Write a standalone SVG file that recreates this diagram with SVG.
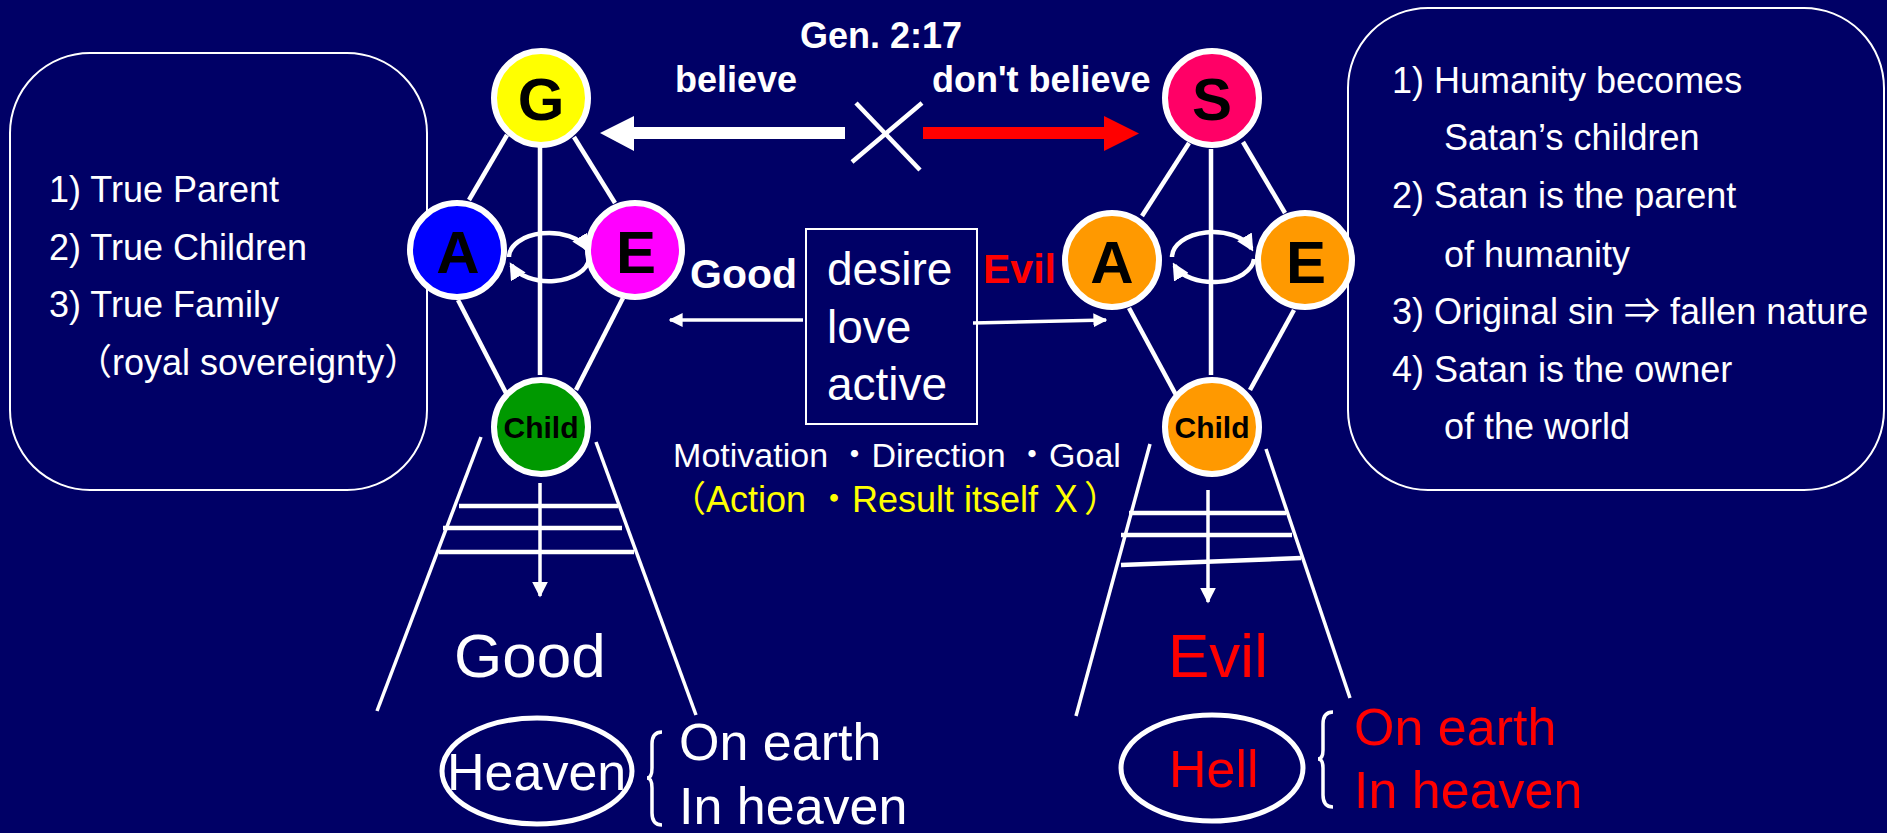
<svg xmlns="http://www.w3.org/2000/svg" width="1887" height="833" viewBox="0 0 1887 833">
<style>
text{font-family:"Liberation Sans",Arial,"Noto Sans CJK JP",sans-serif;}
.w{fill:#fff}
.b{font-weight:bold}
.node{stroke:#fff;stroke-width:6}
.lbl{font-weight:bold;fill:#000;text-anchor:middle}
.ln{stroke:#fff;stroke-width:4.5;fill:none}
.thin{stroke:#fff;stroke-width:3.5;fill:none}
.box{fill:none;stroke:#fff;stroke-width:2}
.t36{font-size:36px;fill:#fff}
</style>
<defs>
<marker id="ah" viewBox="0 0 10 10" refX="9" refY="5" markerWidth="14" markerHeight="14" markerUnits="userSpaceOnUse" orient="auto">
<path d="M0,0 L10,5 L0,10 z" fill="#fff"/>
</marker>
<marker id="ahx" viewBox="0 0 10 10" refX="8" refY="5" markerWidth="17" markerHeight="17" markerUnits="userSpaceOnUse" orient="auto">
<path d="M0,0 L10,5 L0,10 z" fill="#fff"/>
</marker>
<marker id="ah2" viewBox="0 0 10 10" refX="9" refY="5" markerWidth="16" markerHeight="16" markerUnits="userSpaceOnUse" orient="auto">
<path d="M0,0 L10,5 L0,10 z" fill="#fff"/>
</marker>
</defs>
<rect width="1887" height="833" fill="#000066"/>

<g id="connectors">
<!-- left diamond -->
<line class="ln" x1="507" y1="135" x2="469" y2="200"/>
<line class="ln" x1="574" y1="137" x2="615" y2="203"/>
<line class="ln" x1="540" y1="147" x2="540" y2="375"/>
<line class="ln" x1="458" y1="300" x2="507" y2="395"/>
<line class="ln" x1="623" y1="298" x2="576" y2="390"/>
<path class="ln" d="M509,257 A40,24 0 0 1 586.6,248.8" marker-end="url(#ahx)"/>
<path class="ln" d="M589,259 A40,24 0 0 1 511.4,265.2" marker-end="url(#ahx)"/>
<!-- right diamond -->
<line class="ln" x1="1189" y1="143" x2="1142" y2="216"/>
<line class="ln" x1="1243" y1="142" x2="1285" y2="213"/>
<line class="ln" x1="1211" y1="149" x2="1211" y2="375"/>
<line class="ln" x1="1129" y1="308" x2="1176" y2="395"/>
<line class="ln" x1="1294" y1="310" x2="1250" y2="390"/>
<path class="ln" d="M1172,257 A41,25 0 0 1 1251.5,248.5" marker-end="url(#ahx)"/>
<path class="ln" d="M1254,259 A41,25 0 0 1 1174.5,265.5" marker-end="url(#ahx)"/>
<!-- big arrows -->
<polygon points="600,133 634,116 634,127 845,127 845,139 634,139 634,151" fill="#fff"/>
<polygon points="923,127 1104,127 1104,116 1139,133.5 1104,151 1104,139 923,139" fill="#ff0000"/>
<line class="ln" x1="856" y1="103" x2="920" y2="170"/>
<line class="ln" x1="922" y1="103" x2="852" y2="162"/>
<!-- box arrows -->
<line class="thin" x1="803" y1="320" x2="670" y2="320" marker-end="url(#ah)"/>
<line class="thin" x1="973" y1="323" x2="1106" y2="320" marker-end="url(#ah)"/>
<!-- left funnel -->
<line class="thin" x1="481" y1="437" x2="377" y2="711"/>
<line class="thin" x1="596" y1="442" x2="696" y2="715"/>
<line class="ln" x1="459" y1="506" x2="618" y2="506"/>
<line class="ln" x1="443" y1="528" x2="622" y2="528"/>
<line class="ln" x1="439" y1="552" x2="634" y2="552"/>
<line class="thin" x1="540" y1="483" x2="540" y2="596" marker-end="url(#ah2)"/>
<!-- right funnel -->
<line class="thin" x1="1150" y1="444" x2="1076" y2="716"/>
<line class="thin" x1="1266" y1="449" x2="1350" y2="698"/>
<line class="ln" x1="1129" y1="513" x2="1286" y2="513"/>
<line class="ln" x1="1121" y1="535" x2="1292" y2="535"/>
<line class="ln" x1="1121" y1="565" x2="1301" y2="558"/>
<line class="thin" x1="1208" y1="490" x2="1208" y2="602" marker-end="url(#ah2)"/>
<!-- braces -->
<path class="thin" d="M662,732 Q652,732 652,744 L652,768 Q652,778 647,778 Q652,778 652,788 L652,813 Q652,825 662,825"/>
<path class="thin" d="M1333,712 Q1323,712 1323,724 L1323,750 Q1323,759 1318,759 Q1323,759 1323,768 L1323,795 Q1323,807 1333,807"/>
</g>

<g id="left-box">
<rect class="box" x="10" y="53" width="417" height="437" rx="80" ry="80"/>
<text class="t36" x="49" y="202">1) True Parent</text>
<text class="t36" x="49" y="260">2) True Children</text>
<text class="t36" x="49" y="317">3) True Family</text>
<text class="t36" x="76" y="375">（royal sovereignty）</text>
</g>

<g id="right-box">
<rect class="box" x="1348" y="8" width="536" height="482" rx="80" ry="80"/>
<text class="t36" x="1392" y="93">1) Humanity becomes</text>
<text class="t36" x="1444" y="150">Satan’s children</text>
<text class="t36" x="1392" y="208">2) Satan is the parent</text>
<text class="t36" x="1444" y="267">of humanity</text>
<text class="t36" x="1392" y="324">3) Original sin ⇒ fallen nature</text>
<text class="t36" x="1392" y="382">4) Satan is the owner</text>
<text class="t36" x="1444" y="439">of the world</text>
</g>

<g id="node-G"><circle class="node" cx="541" cy="98" r="47" fill="#ffff00"/><text class="lbl" x="541" y="120" font-size="60">G</text></g>
<g id="node-A"><circle class="node" cx="457" cy="250" r="47" fill="#0000ff"/><text class="lbl" x="458" y="273" font-size="60">A</text></g>
<g id="node-E"><circle class="node" cx="635" cy="250" r="47" fill="#ff00ff"/><text class="lbl" x="636" y="273" font-size="60">E</text></g>
<g id="node-Child"><circle class="node" cx="541" cy="427" r="47" fill="#009900"/><text class="lbl" x="541" y="438" font-size="30">Child</text></g>

<g id="node-S"><circle class="node" cx="1212" cy="98" r="47" fill="#ff0066"/><text class="lbl" x="1212" y="120" font-size="60">S</text></g>
<g id="node-A2"><circle class="node" cx="1112" cy="260" r="47" fill="#ff9900"/><text class="lbl" x="1112" y="283" font-size="60">A</text></g>
<g id="node-E2"><circle class="node" cx="1305" cy="260" r="47" fill="#ff9900"/><text class="lbl" x="1306" y="283" font-size="60">E</text></g>
<g id="node-Child2"><circle class="node" cx="1212" cy="427" r="47" fill="#ff9900"/><text class="lbl" x="1212" y="438" font-size="30">Child</text></g>

<g id="center-box">
<rect class="box" x="806" y="229" width="171" height="195"/>
<text class="w" x="827" y="285" font-size="46">desire</text>
<text class="w" x="827" y="343" font-size="46">love</text>
<text class="w" x="827" y="400" font-size="46">active</text>
</g>

<g id="labels">
<text class="w b" x="800" y="48" font-size="36">Gen. 2:17</text>
<text class="w b" x="675" y="92" font-size="36">believe</text>
<text class="w b" x="932" y="92" font-size="36">don't believe</text>
<text class="w b" x="690" y="288" font-size="41">Good</text>
<text class="b" x="983" y="283" font-size="41" fill="#ff0000">Evil</text>
<text class="w" x="897" y="467" font-size="34" text-anchor="middle">Motivation ・Direction ・Goal</text>
<text x="895" y="512" font-size="36" text-anchor="middle" fill="#ffff00">（Action ・Result itself Ｘ）</text>
</g>

<g id="good-result">
<text class="w" x="454" y="677" font-size="62">Good</text>
<ellipse cx="537" cy="771" rx="95" ry="53" fill="none" stroke="#fff" stroke-width="5"/>
<text class="w" x="447" y="790" font-size="52">Heaven</text>
<text class="w" x="679" y="760" font-size="52">On earth</text>
<text class="w" x="679" y="824" font-size="52">In heaven</text>
</g>

<g id="evil-result">
<text x="1168" y="677" font-size="62" fill="#ff0000">Evil</text>
<ellipse cx="1212" cy="768" rx="91" ry="53" fill="none" stroke="#fff" stroke-width="5"/>
<text x="1169" y="787" font-size="52" fill="#ff0000">Hell</text>
<text x="1354" y="745" font-size="52" fill="#ff0000">On earth</text>
<text x="1354" y="808" font-size="52" fill="#ff0000">In heaven</text>
</g>
</svg>
